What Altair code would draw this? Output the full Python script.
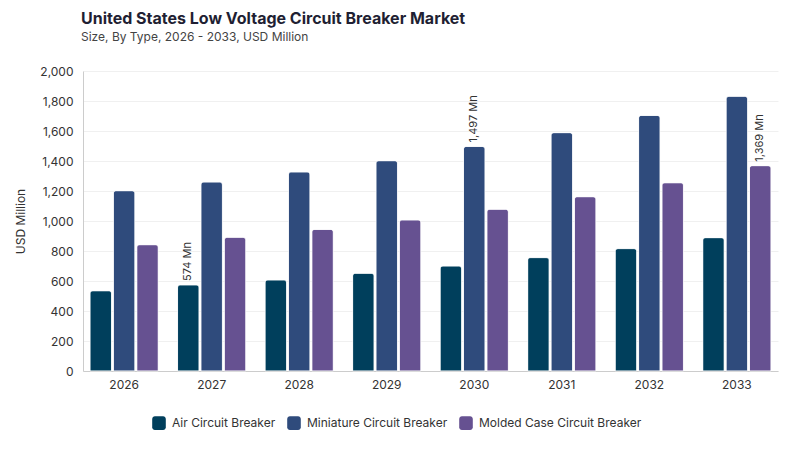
import altair as alt
import pandas as pd

years = ["2026", "2027", "2028", "2029", "2030", "2031", "2032", "2033"]
air = [535, 574, 607, 651, 700, 756, 816, 889]
miniature = [1202, 1260, 1327, 1402, 1497, 1589, 1704, 1831]
molded = [842, 891, 944, 1007, 1078, 1162, 1255, 1369]
series = ["Air Circuit Breaker", "Miniature Circuit Breaker", "Molded Case Circuit Breaker"]
colors = ["#003f5c", "#2f4b7c", "#665191"]
labels = {("2027", series[0]): "574 Mn", ("2030", series[1]): "1,497 Mn", ("2033", series[2]): "1,369 Mn"}

rows = []
for i, y in enumerate(years):
    for s, vals in zip(series, [air, miniature, molded]):
        rows.append({"year": y, "type": s, "value": vals[i], "label": labels.get((y, s), "")})
df = pd.DataFrame(rows)

FONT = "Inter"
rounded = "M -0.6 -1 H 0.6 A 0.4 0.4 0 0 1 1 -0.6 V 0.6 A 0.4 0.4 0 0 1 0.6 1 H -0.6 A 0.4 0.4 0 0 1 -1 0.6 V -0.6 A 0.4 0.4 0 0 1 -0.6 -1 Z"

x = alt.X("year:N", title=None, sort=years,
          scale=alt.Scale(paddingInner=0.22, paddingOuter=0.08),
          axis=alt.Axis(labelAngle=0, labelFontSize=12, labelColor="#333333", labelPadding=8,
                        ticks=False, domainColor="#cccccc", labelFont=FONT))
xo = alt.XOffset("type:N", sort=series, scale=alt.Scale(paddingInner=0.08))
y = alt.Y("value:Q", title="USD Million",
          scale=alt.Scale(domain=[0, 2000]),
          axis=alt.Axis(values=list(range(0, 2001, 200)), format=",.0f", labelFontSize=12,
                        labelColor="#333333", titleFontSize=12, titleColor="#333333",
                        titleFontWeight="normal", ticks=False, labelPadding=10,
                        domainColor="#cccccc", gridColor="#f0f0f0", titlePadding=12,
                        labelFont=FONT, titleFont=FONT, labelOverlap=False))

base = alt.Chart(df)

bars = base.mark_bar(cornerRadiusTopLeft=3, cornerRadiusTopRight=3, stroke="white", strokeWidth=0.6).encode(
    x=x, xOffset=xo, y=y,
    color=alt.Color("type:N", sort=series, scale=alt.Scale(domain=series, range=colors),
                    legend=alt.Legend(title=None, orient="none", direction="horizontal",
                                      legendX=69, legendY=345,
                                      symbolType=rounded, symbolSize=185, symbolStrokeWidth=0,
                                      labelFontSize=12, labelColor="#333333", labelFont=FONT,
                                      labelLimit=400, labelOffset=6,
                                      columnPadding=11, symbolOffset=0)),
)

text = base.transform_filter(alt.datum.label != "").mark_text(
    angle=270, align="left", baseline="middle", dx=4, fontSize=11, color="#333333", font=FONT
).encode(x=x, xOffset=xo, y=y, text="label:N")

chart = alt.layer(bars, text).properties(
    width=695, height=300,
    title=alt.Title("United States Low Voltage Circuit Breaker Market",
                    subtitle="Size, By Type, 2026 - 2033, USD Million",
                    anchor="start", frame="group", dx=-2, fontSize=16, fontWeight="bold",
                    color="#1f1f33", subtitleFontSize=12, subtitleColor="#444444",
                    font=FONT, subtitleFont=FONT, offset=22, subtitlePadding=5),
    autosize=alt.AutoSizeParams(type="none"),
    padding={"left": 75, "top": 63, "right": 14, "bottom": 71},
).configure_view(stroke=None).configure_axisX(grid=False)

chart.save("out.html", embed_options={"renderer": "svg", "actions": False})
